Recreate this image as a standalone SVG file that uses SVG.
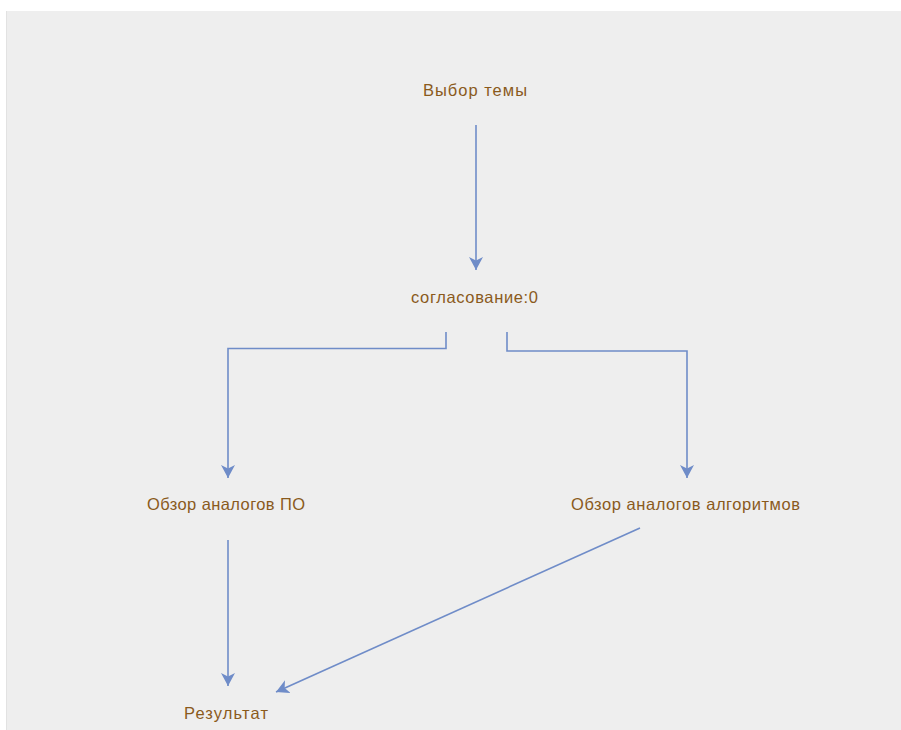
<svg xmlns="http://www.w3.org/2000/svg" width="901" height="730" viewBox="0 0 901 730">
  <style>
    .lbl { font-family: "Liberation Sans", Arial, sans-serif; font-size: 16.5px; fill: #8a5a1c; text-anchor: start; }
    .edge { fill: none; stroke: #6f8cc8; stroke-width: 1.6; marker-end: url(#arrow); }
  </style>
  <defs>
    <marker id="arrow" markerWidth="16" markerHeight="16" refX="13" refY="7" orient="auto" markerUnits="userSpaceOnUse">
      <path d="M0,0 L13,7 L0,14 L3.5,7 Z" fill="#6f8cc8"/>
    </marker>
  </defs>
  <rect x="6" y="11" width="895" height="719" fill="#eeeeee"/>
  <line x1="6.5" y1="11" x2="6.5" y2="730" stroke="#e2e2e2" stroke-width="1"/>

  <g id="connectors">
    <path class="edge" d="M476,125 L476,270"/>
    <path class="edge" d="M446,332 L446,348.5 L228,348.5 L228,478"/>
    <path class="edge" d="M507,332 L507,351 L687,351 L687,478"/>
    <path class="edge" d="M228,540 L228,686"/>
    <path class="edge" d="M640,528 L276,692"/>
  </g>

  <g id="node-topic">
    <text class="lbl" x="423" y="96" textLength="104" lengthAdjust="spacing">Выбор темы</text>
  </g>
  <g id="node-approval">
    <text class="lbl" x="411" y="303" textLength="127" lengthAdjust="spacing">согласование:0</text>
  </g>
  <g id="node-software">
    <text class="lbl" x="147" y="510" textLength="158" lengthAdjust="spacing">Обзор аналогов ПО</text>
  </g>
  <g id="node-algorithms">
    <text class="lbl" x="571" y="510" textLength="229" lengthAdjust="spacing">Обзор аналогов алгоритмов</text>
  </g>
  <g id="node-result">
    <text class="lbl" x="184" y="719" textLength="84" lengthAdjust="spacing">Результат</text>
  </g>
</svg>
